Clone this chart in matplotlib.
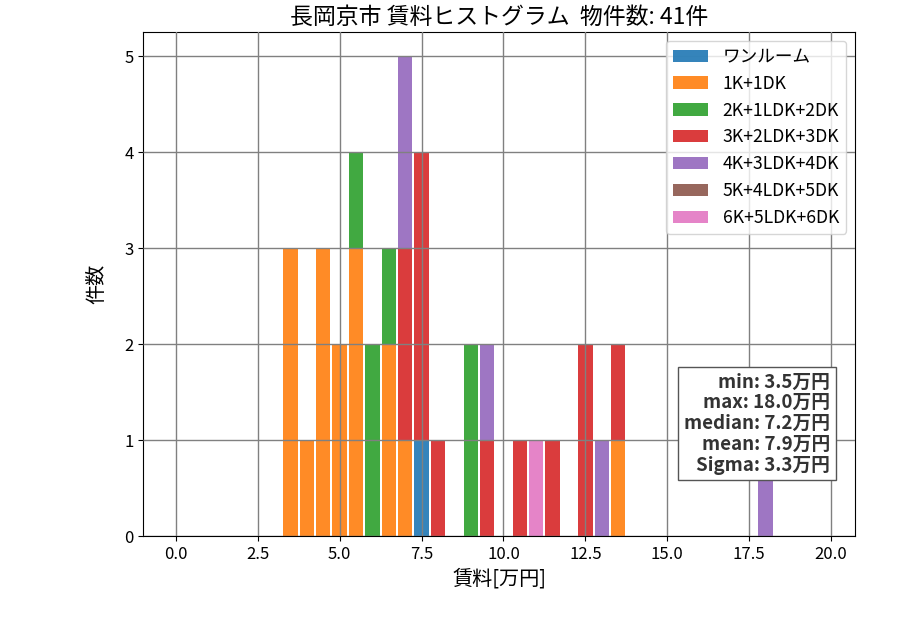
import numpy as np
import matplotlib
matplotlib.use('Agg')
import matplotlib.pyplot as plt

plt.rcParams['font.family'] = ['Noto Sans CJK JP', 'DejaVu Sans']

# 賃料ビン(万円)
bins = [3.5, 4.0, 4.5, 5.0, 5.5, 6.0, 6.5, 7.0, 7.5, 8.0, 9.0, 9.5,
        10.5, 11.0, 11.5, 12.5, 13.0, 13.5, 18.0]

labels = ['ワンルーム', '1K+1DK', '2K+1LDK+2DK', '3K+2LDK+3DK',
          '4K+3LDK+4DK', '5K+4LDK+5DK', '6K+5LDK+6DK']

one_room = [0, 0, 0, 0, 0, 0, 0, 0, 1, 0, 0, 0, 0, 0, 0, 0, 0, 0, 0]
k1 = [3, 1, 3, 2, 3, 0, 2, 1, 0, 0, 0, 0, 0, 0, 0, 0, 0, 1, 0]
k2 = [0, 0, 0, 0, 1, 2, 1, 0, 0, 0, 2, 0, 0, 0, 0, 0, 0, 0, 0]
k3 = [0, 0, 0, 0, 0, 0, 0, 2, 3, 1, 0, 1, 1, 0, 1, 2, 0, 1, 0]
k4 = [0, 0, 0, 0, 0, 0, 0, 2, 0, 0, 0, 1, 0, 0, 0, 0, 1, 0, 1]
k5 = [0] * len(bins)
k6 = [0, 0, 0, 0, 0, 0, 0, 0, 0, 0, 0, 0, 0, 1, 0, 0, 0, 0, 0]
series = [one_room, k1, k2, k3, k4, k5, k6]

stats = ['min: 3.5万円', 'max: 18.0万円', 'median: 7.2万円',
         'mean: 7.9万円', 'Sigma: 3.3万円']

colors = ['tab:blue', 'tab:orange', 'tab:green', 'tab:red',
          'tab:purple', 'tab:brown', 'tab:pink']

fig = plt.figure(figsize=(9, 6.3), dpi=100)
ax = fig.add_axes([0.159, 0.149, 0.791, 0.8])

bottom = np.zeros(len(bins))
for vals, lab, c in zip(series, labels, colors):
    vals = np.array(vals, dtype=float)
    ax.bar(bins, vals, width=0.44, bottom=bottom, color=c, alpha=0.9,
           label=lab, zorder=1)
    bottom += vals

ax.set_xlim(-1.0, 20.73)
ax.set_ylim(0, 5.25)
ax.set_xticks(np.arange(0, 20.1, 2.5))
ax.set_yticks(range(6))
ax.tick_params(labelsize=12)
ax.grid(True, color='gray', linewidth=1, zorder=2)
ax.set_axisbelow(False)

ax.set_title('長岡京市 賃料ヒストグラム  物件数: 41件', fontsize=16.5)
ax.set_xlabel('賃料[万円]', fontsize=14.5)
ax.set_ylabel('件数', fontsize=14.5, labelpad=12)

ax.legend(loc='upper right', fontsize=12.7)

ax.text(0.965, 0.122, '\n'.join(stats), transform=ax.transAxes,
        ha='right', va='bottom', fontsize=13.5, fontweight='bold',
        color='#333333', linespacing=1.12, zorder=5,
        bbox=dict(boxstyle='square,pad=0.3', facecolor='white',
                  edgecolor='#555555'))

fig.savefig('out.png')
